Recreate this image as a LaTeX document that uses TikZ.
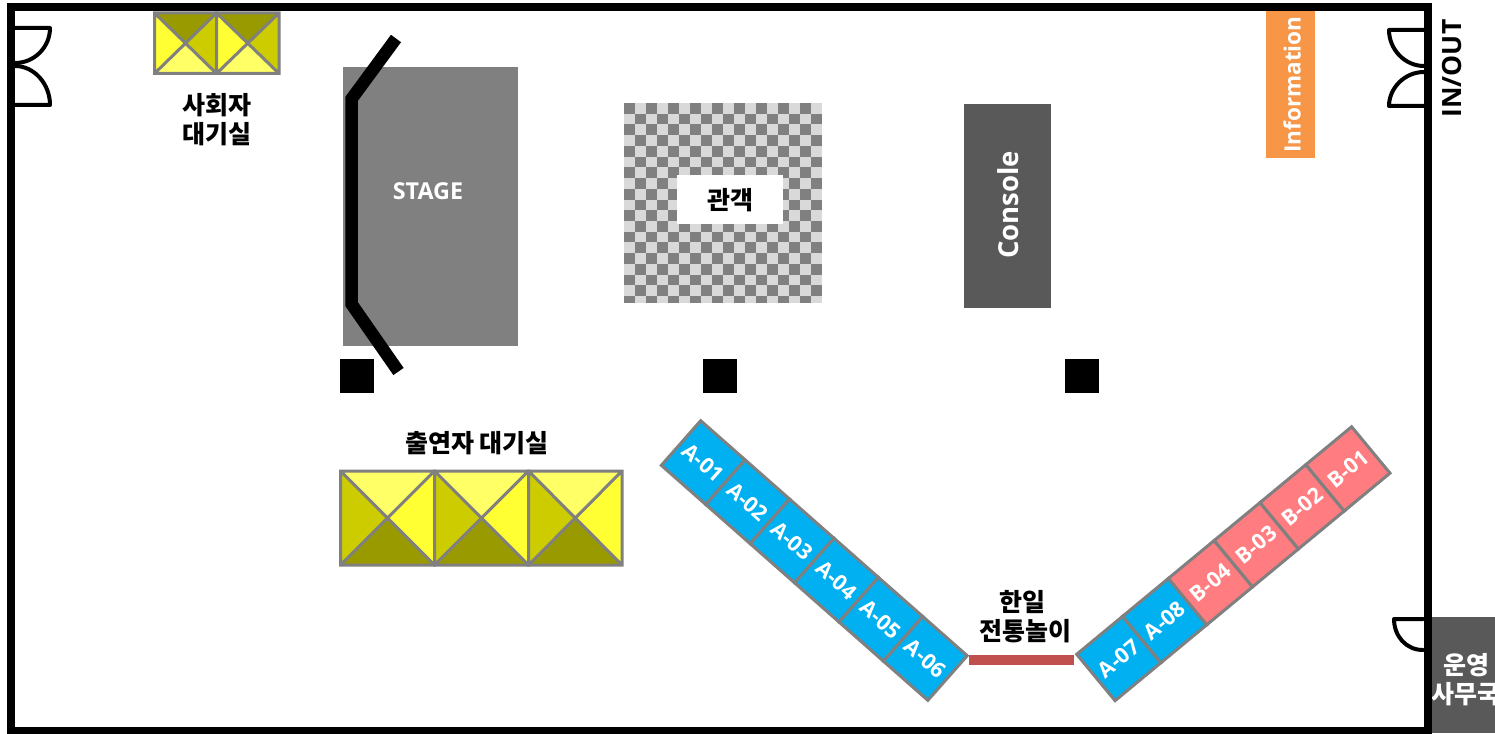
\documentclass[tikz,border=0pt]{standalone}
\usepackage{fontspec}
\setmainfont{Open Sans}
\newfontfamily\krfont{Noto Sans CJK KR}
\definecolor{wallgray}{HTML}{808080}
\definecolor{darkbox}{HTML}{595959}
\definecolor{lightcheck}{HTML}{D9D9D9}
\definecolor{orangebox}{HTML}{F79646}
\definecolor{boothblue}{HTML}{00B0F0}
\definecolor{boothpink}{HTML}{FF7C80}
\definecolor{barred}{HTML}{C0504D}
\definecolor{olive}{HTML}{999900}
\definecolor{midy}{HTML}{CCCC00}
\definecolor{bright}{HTML}{FFFF33}
\definecolor{pale}{HTML}{FFFF66}
\tikzset{
  flat/.style={inner sep=0pt,outer sep=0pt,anchor=center},
  wall/.style={draw=black,line width=8pt,miter limit=10},
  door/.style={draw=black,line width=4pt,line cap=round,line join=round},
  pillar/.style={flat,fill=black,minimum width=34pt,minimum height=34pt},
  label/.style={flat,font=\krfont\bfseries\fontsize{25}{29}\selectfont,align=center,text=black},
  whitelabel/.style={label,text=white},
  latinlabel/.style={flat,font=\bfseries\fontsize{23.3}{26}\selectfont,text=white},
  tri/.style={draw=wallgray,line width=3pt,line join=miter},
  booth/.style={flat,draw=wallgray,line width=3pt,text=white,font=\bfseries\fontsize{21.5}{26}\selectfont},
}
\newcommand{\roomcell}[8]{%
  \fill[#5] (#1,#2) -- (#3,#2) -- ({(#1+#3)/2},{(#2+#4)/2}) -- cycle;
  \fill[#6] (#3,#2) -- (#3,#4) -- ({(#1+#3)/2},{(#2+#4)/2}) -- cycle;
  \fill[#7] (#3,#4) -- (#1,#4) -- ({(#1+#3)/2},{(#2+#4)/2}) -- cycle;
  \fill[#8] (#1,#4) -- (#1,#2) -- ({(#1+#3)/2},{(#2+#4)/2}) -- cycle;
  \draw[tri] (#1,#2) rectangle (#3,#4) (#1,#2) -- (#3,#4) (#3,#2) -- (#1,#4);
}
\begin{document}
\begin{tikzpicture}[x=1pt,y=-1pt]
\clip (0,0) rectangle (1495,733);
\fill[white] (0,0) rectangle (1495,733);
% stage
\node[flat,fill=wallgray,minimum width=175pt,minimum height=279pt] (stage) at (430.5,206.5) {};
\node[latinlabel] (stagetext) at (428,191.5) {STAGE};
\draw[line width=12.5pt,line join=miter,miter limit=10] (396,38.5) -- (351.5,99) -- (351.5,304) -- (398.5,371.5);
% pillars
\node[pillar] (p1) at (357,376) {};
\node[pillar] (p2) at (720,376) {};
\node[pillar] (p3) at (1082,376) {};
% audience
\begin{scope}
\clip (624,103) rectangle (822,302.5);
\fill[lightcheck] (624,103) rectangle (822,302.5);
\foreach \r in {0,...,18} \foreach \c in {0,...,17} {
  \ifodd\numexpr\r+\c\relax\else
    \fill[wallgray] ({624+11*\c},{103+10.73*\r}) rectangle ++(11,10.73);
  \fi
}
\end{scope}
\node[flat,fill=white,minimum width=105.7pt,minimum height=48.7pt] (aud) at (729.9,199.3) {};
\node[label] (audtext) at (730,200) {관객};
% console, information
\node[flat,fill=darkbox,minimum width=87pt,minimum height=204pt] (console) at (1007.5,206) {};
\node[latinlabel,rotate=90,font=\bfseries\fontsize{27.5}{30}\selectfont] (consoletext) at (1008,205) {Console};
\node[flat,fill=orangebox,minimum width=49pt,minimum height=148pt] (info) at (1290.5,84) {};
\node[latinlabel,rotate=90,font=\bfseries\fontsize{22.5}{26}\selectfont] (infotext) at (1292,84.5) {Information};
% office
\node[flat,fill=darkbox,minimum width=64pt,minimum height=116pt] (office) at (1463,675) {};
\node[whitelabel] (officetext) at (1466,680) {운영\\사무국};
% walls
\draw[wall] (11.3,7) rectangle (1428,731);
% doors
\draw[door] (15,28) -- (50,28) .. controls (50,47.3) and (34.3,63) .. (15,63);
\draw[door] (15,105) -- (50,105) .. controls (50,84) and (34.3,66) .. (15,66);
\draw[door] (1424,30) -- (1389,30) .. controls (1389,49.3) and (1404.7,66) .. (1424,66);
\draw[door] (1424,106) -- (1389,106) .. controls (1389,88) and (1404.7,72) .. (1424,72);
\draw[door] (1423,619) -- (1394,619) .. controls (1394,636) and (1406,650) .. (1423,650);
\node[flat,rotate=90,font=\bfseries\fontsize{26.5}{30}\selectfont,text=black] (inout) at (1452,68.5) {IN/OUT};
% rooms
\roomcell{154.5}{13}{216.5}{73.5}{olive}{midy}{pale}{bright}
\roomcell{216.5}{13}{279}{73.5}{olive}{midy}{pale}{bright}
\roomcell{340.5}{471}{434.5}{565}{pale}{bright}{olive}{midy}
\roomcell{434.5}{471}{528.5}{565}{pale}{bright}{olive}{midy}
\roomcell{528.5}{471}{622}{565}{pale}{bright}{olive}{midy}
\node[label] (hostroom) at (216.5,119.5) {사회자\\대기실};
\node[label] (castroom) at (477,443.5) {출연자 대기실};
% booths, left strip
\foreach \i/\t in {0/A-01,1/A-02,2/A-03,3/A-04,4/A-05,5/A-06} {
  \node[booth,fill=boothblue,rotate=-41.4,minimum width=59.2pt,minimum height=59.5pt] (\t) at ({681+44.42*(\i+.5)},{443+39.17*(\i+.5)}) {\t};
}
% booths, right strip
\foreach \i/\t/\col in {0/A-07/boothblue,1/A-08/boothblue,2/B-04/boothpink,3/B-03/boothpink,4/B-02/boothpink,5/B-01/boothpink} {
  \node[booth,fill=\col,rotate=39.6,minimum width=59.4pt,minimum height=60.2pt] (\t) at ({1095.85+45.83*(\i+.5)},{677.5-37.93*(\i+.5)}) {\t};
}
% red bar
\node[flat,fill=barred,minimum width=105pt,minimum height=10pt] (bar) at (1021.5,660) {};
\node[label] (games) at (1025,617) {한일\kern5pt\\전통놀이};
\end{tikzpicture}
\end{document}
